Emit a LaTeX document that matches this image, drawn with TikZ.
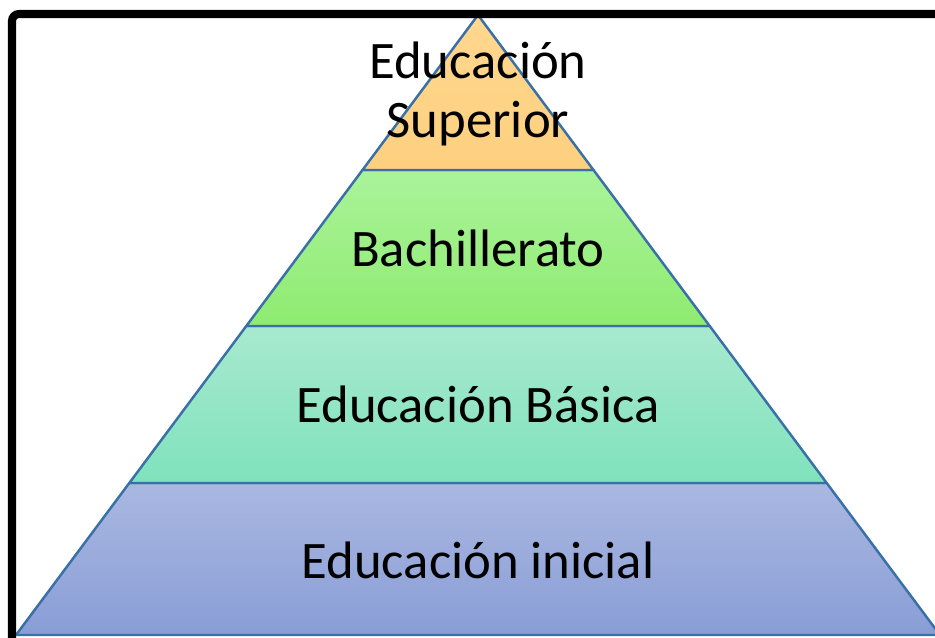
\documentclass[tikz,border=0pt]{standalone}
\usepackage{fontspec}
\setmainfont{Carlito}
\definecolor{edgeblue}{HTML}{3A70A8}
\definecolor{supTop}{HTML}{FFD78E}
\definecolor{supBot}{HTML}{FDD07F}
\definecolor{bachTop}{HTML}{AAF39B}
\definecolor{bachBot}{HTML}{8FEB70}
\definecolor{basTop}{HTML}{A8E9CF}
\definecolor{basBot}{HTML}{7FE2BC}
\definecolor{iniTop}{HTML}{AAB8E1}
\definecolor{iniBot}{HTML}{899DD6}
\begin{document}
\begin{tikzpicture}[
    layer/.style={draw=edgeblue, line width=0.7pt, line join=round},
    tag/.style={font=\fontsize{15}{16.9}\selectfont, align=center, inner sep=0pt}
  ]
    \useasboundingbox (0,0) rectangle (9.35,6.37);
    \clip (0,0) rectangle (9.35,6.37);

    % esquinas
    \coordinate (T) at (4.78,6.22);
    \coordinate (L1) at (3.625,4.67);
    \coordinate (R1) at (5.935,4.67);
    \coordinate (L2) at (2.463,3.11);
    \coordinate (R2) at (7.097,3.11);
    \coordinate (L3) at (1.293,1.54);
    \coordinate (R3) at (8.267,1.54);
    \coordinate (L4) at (0.16,0.02);
    \coordinate (R4) at (9.40,0.02);

    % niveles
    \draw[layer, top color=iniTop, bottom color=iniBot] (L3) -- (R3) -- (R4) -- (L4) -- cycle;
    \draw[layer, top color=basTop, bottom color=basBot] (L2) -- (R2) -- (R3) -- (L3) -- cycle;
    \draw[layer, top color=bachTop, bottom color=bachBot] (L1) -- (R1) -- (R2) -- (L2) -- cycle;
    \draw[layer, top color=supTop, bottom color=supBot] (T) -- (R1) -- (L1) -- cycle;

    % textos
    \node[tag] (sup) at (4.78,5.43) {Educación\\Superior};
    \node[tag] (bach) at (4.78,3.89) {Bachillerato};
    \node[tag] (bas) at (4.78,2.33) {Educación Básica};
    \node[tag] (ini) at (4.78,0.77) {Educación inicial};

    % marco
    \draw[line width=2.3pt, rounded corners=0.07cm] (0.12,-0.2) -- (0.12,6.23) -- (9.6,6.23);

\end{tikzpicture}
\end{document}
